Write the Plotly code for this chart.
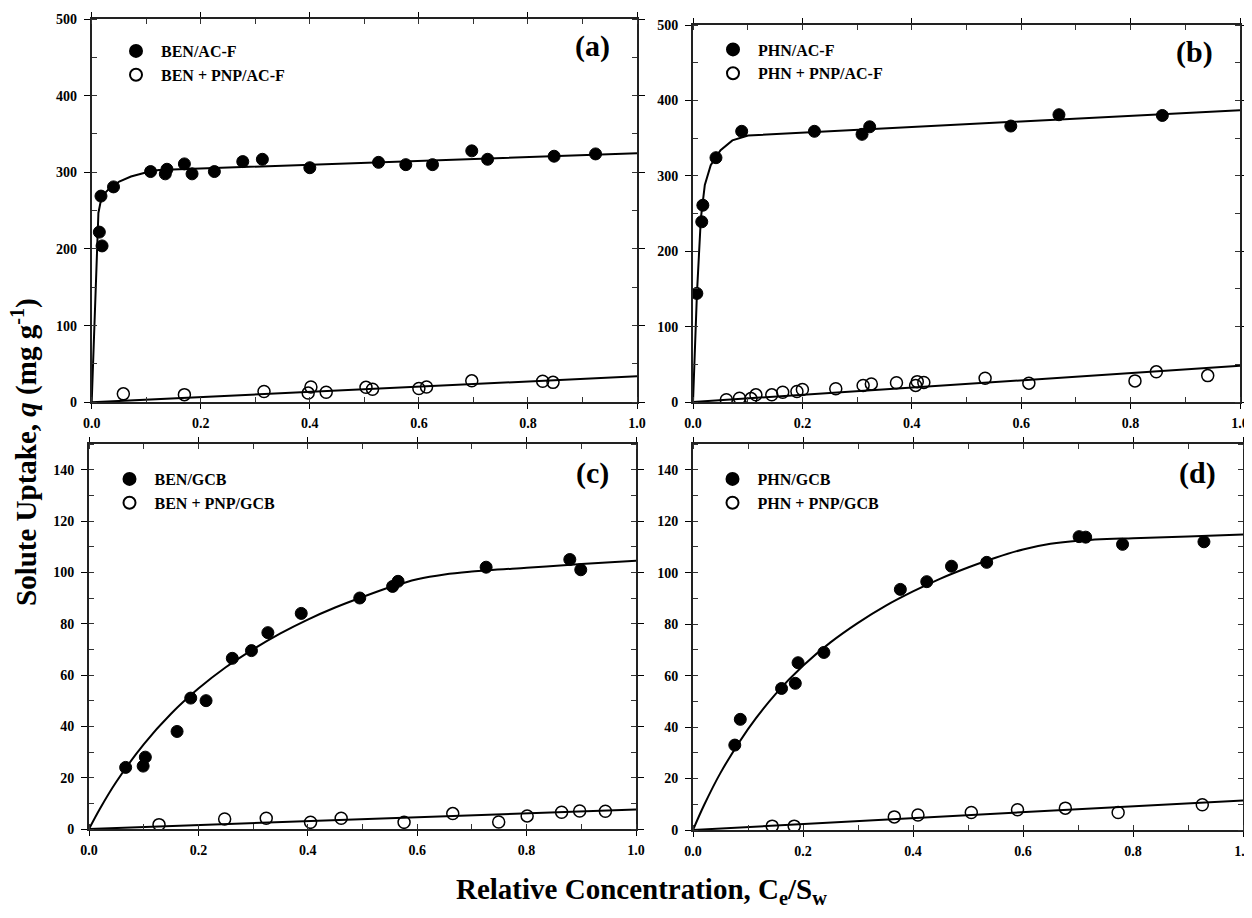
import plotly.graph_objects as go

# ---------------- data ----------------
# (a) BEN on AC-F
a_single_x = [0.014, 0.019, 0.017, 0.040, 0.108, 0.135, 0.138, 0.170, 0.184, 0.225, 0.277, 0.313,
              0.400, 0.526, 0.576, 0.625, 0.697, 0.726, 0.848, 0.924]
a_single_y = [222, 204, 269, 281, 301, 298, 304, 311, 298, 301, 314, 317,
              306, 313, 310, 310, 328, 317, 321, 324]
a_mix_x = [0.058, 0.170, 0.316, 0.397, 0.402, 0.430, 0.503, 0.515, 0.600, 0.614, 0.697, 0.827, 0.846]
a_mix_y = [11, 10, 14, 12, 20, 13, 19.5, 17, 18, 20, 28, 27.5, 26]
a_fit1_x = [0, 0.0123, 0.0159, 0.0217, 0.0325, 0.0505, 0.072, 0.101, 0.123, 1.0]
a_fit1_y = [0, 247, 260, 271, 279, 288, 294.5, 300, 303, 325]
a_fit2_x = [0, 1.0]
a_fit2_y = [0, 34]

# (b) PHN on AC-F
b_single_x = [0.007, 0.016, 0.018, 0.042, 0.089, 0.222, 0.309, 0.323, 0.581, 0.669, 0.858]
b_single_y = [144, 239, 261, 324, 359, 359, 355, 365, 366, 381, 380]
b_mix_x = [0.061, 0.085, 0.106, 0.115, 0.144, 0.164, 0.190, 0.200, 0.261, 0.311, 0.326, 0.372,
           0.407, 0.410, 0.422, 0.534, 0.614, 0.808, 0.847, 0.941]
b_mix_y = [3, 5, 4.5, 9.5, 9.5, 13, 14, 16.5, 17.5, 22, 24, 25.5, 22, 27, 26, 31.5, 25, 28, 40, 35]
b_fit1_x = [0, 0.0072, 0.0144, 0.0216, 0.0324, 0.0504, 0.072, 0.1007, 1.0]
b_fit1_y = [0, 144, 244, 288, 314, 334, 347, 353.5, 387]
b_fit2_x = [0, 1.0]
b_fit2_y = [0, 48]

# (c) BEN on GCB
c_single_x = [0.067, 0.099, 0.103, 0.161, 0.186, 0.214, 0.262, 0.297, 0.327, 0.388, 0.495, 0.555,
              0.565, 0.726, 0.879, 0.899]
c_single_y = [24, 24.5, 28, 38, 51, 50, 66.5, 69.5, 76.5, 84, 90, 94.5, 96.5, 102, 105, 101]
c_mix_x = [0.128, 0.248, 0.324, 0.405, 0.461, 0.576, 0.665, 0.749, 0.801, 0.864, 0.897, 0.944]
c_mix_y = [1.7, 3.9, 4.2, 2.6, 4.2, 2.6, 6.0, 2.7, 5.1, 6.5, 7.0, 6.9]
c_fit1_x = [0, 0.02, 0.05, 0.1, 0.15, 0.2, 0.25, 0.3, 0.35, 0.4, 0.45, 0.5, 0.55, 0.6, 0.65, 0.7,
            0.8, 0.9, 1.0]
c_fit1_y = [0, 7.9, 18.4, 33, 44.9, 54.7, 63, 70, 76.2, 81.6, 86.3, 90.4, 94.2, 97.3, 99.2, 100.3,
            101.8, 103.2, 104.5]
c_fit2_x = [0, 1.0]
c_fit2_y = [0, 7.6]

# (d) PHN on GCB
d_single_x = [0.076, 0.086, 0.161, 0.186, 0.191, 0.238, 0.377, 0.425, 0.470, 0.534, 0.702, 0.714,
              0.781, 0.929]
d_single_y = [33, 43, 55, 57, 65, 69, 93.5, 96.5, 102.5, 104, 114, 113.8, 111, 112]
d_mix_x = [0.144, 0.184, 0.366, 0.409, 0.506, 0.590, 0.677, 0.773, 0.926]
d_mix_y = [1.5, 1.5, 5.1, 5.8, 6.8, 7.9, 8.5, 6.8, 9.8]
d_fit1_x = [0, 0.02, 0.05, 0.1, 0.15, 0.2, 0.25, 0.3, 0.35, 0.4, 0.45, 0.5, 0.55, 0.6, 0.65, 0.7,
            0.8, 0.9, 1.0]
d_fit1_y = [0, 9.6, 22.2, 39.2, 52.8, 63.8, 72.9, 80.5, 87.1, 92.7, 97.7, 102, 105.8, 109.0, 111.2,
            112.4, 113.4, 114.1, 114.8]
d_fit2_x = [0, 1.0]
d_fit2_y = [0, 11.5]

names = {
    "a": ("BEN/AC-F", "BEN + PNP/AC-F"),
    "b": ("PHN/AC-F", "PHN + PNP/AC-F"),
    "c": ("BEN/GCB", "BEN + PNP/GCB"),
    "d": ("PHN/GCB", "PHN + PNP/GCB"),
}
panel_labels = {"a": "(a)", "b": "(b)", "c": "(c)", "d": "(d)"}
x_ticks = [0.0, 0.2, 0.4, 0.6, 0.8, 1.0]

# ---------------- figure ----------------
# The page body has an 8 px margin, so the figure is sized to fill the window exactly
OFF = 8
W, H = 1252 - 2 * OFF, 918 - 2 * OFF
FONT = "Liberation Serif"

def px_x(p):
    return (p - OFF) / W

def px_y(p):
    return 1 - (p - OFF) / H

panels = {
    # key: (axis index, x domain px, y domain px (bottom, top), y max, y dtick,
    #       legend px (left, top), label centre y px, fit1 spline?)
    "a": (1, (91.7, 637.0), (402.3, 19.0), 500, 100, (111, 34), 46, False),
    "b": (2, (693.0, 1240.0), (402.0, 25.0), 500, 100, (708, 32.5), 52, False),
    "c": (3, (89.0, 636.0), (829.0, 444.0), 150, 20, (104.5, 462), 473, True),
    "d": (4, (693.0, 1243.0), (830.0, 444.0), 150, 20, (707.5, 462), 473, True),
}
data = {
    "a": (a_single_x, a_single_y, a_mix_x, a_mix_y, a_fit1_x, a_fit1_y, a_fit2_x, a_fit2_y),
    "b": (b_single_x, b_single_y, b_mix_x, b_mix_y, b_fit1_x, b_fit1_y, b_fit2_x, b_fit2_y),
    "c": (c_single_x, c_single_y, c_mix_x, c_mix_y, c_fit1_x, c_fit1_y, c_fit2_x, c_fit2_y),
    "d": (d_single_x, d_single_y, d_mix_x, d_mix_y, d_fit1_x, d_fit1_y, d_fit2_x, d_fit2_y),
}

fig = go.Figure()
layout = dict(
    width=W, height=H,
    margin=dict(l=0, r=0, t=0, b=0, autoexpand=False),
    paper_bgcolor="white", plot_bgcolor="white",
    font=dict(family=FONT, color="black"),
    showlegend=True,
)
annotations = []

for key, (i, xd, yd, ymax, ydt, lg, lab_y, smooth) in panels.items():
    sx, sy, mx, my, f1x, f1y, f2x, f2y = data[key]
    xa = "x" if i == 1 else f"x{i}"
    ya = "y" if i == 1 else f"y{i}"
    leg = "legend" if i == 1 else f"legend{i}"
    fig.add_trace(go.Scatter(x=f1x, y=f1y, mode="lines", xaxis=xa, yaxis=ya, showlegend=False,
                             line=dict(color="black", width=2,
                                       shape="spline" if smooth else "linear"),
                             hoverinfo="skip", legend=leg))
    fig.add_trace(go.Scatter(x=f2x, y=f2y, mode="lines", xaxis=xa, yaxis=ya, showlegend=False,
                             line=dict(color="black", width=2), hoverinfo="skip", legend=leg))
    fig.add_trace(go.Scatter(x=sx, y=sy, mode="markers", xaxis=xa, yaxis=ya, name=names[key][0],
                             legend=leg,
                             marker=dict(symbol="circle", size=12, color="black",
                                         line=dict(color="black", width=1))))
    fig.add_trace(go.Scatter(x=mx, y=my, mode="markers", xaxis=xa, yaxis=ya, name=names[key][1],
                             legend=leg,
                             marker=dict(symbol="circle-open", size=12, color="black",
                                         line=dict(color="black", width=1.5))))

    axname = "" if i == 1 else str(i)
    layout["xaxis" + axname] = dict(
        domain=[px_x(xd[0]), px_x(xd[1])], anchor=ya, range=[0, 1.0],
        tickvals=x_ticks, ticktext=[f"{v:.1f}" for v in x_ticks],
        ticks="outside", ticklen=5, tickwidth=1.2, tickcolor="black", ticklabelstandoff=2,
        ticklabeloverflow="allow",
        minor=dict(dtick=0.1, ticks="inside", ticklen=5, tickwidth=1, tickcolor="#333"),
        showline=True, linecolor="#222", linewidth=1.8, mirror="allticks",
        showgrid=False, zeroline=False, automargin=False,
        tickfont=dict(family=FONT, size=14, color="black", weight="bold"),
        fixedrange=True,
    )
    layout["yaxis" + axname] = dict(
        domain=[px_y(yd[0]), px_y(yd[1])], anchor=xa, range=[0, ymax],
        dtick=ydt, tick0=0,
        ticks="outside", ticklen=6, tickwidth=1.2, tickcolor="black", ticklabelstandoff=4,
        ticklabeloverflow="allow",
        minor=dict(dtick=ydt / 2, ticks="inside", ticklen=5, tickwidth=1, tickcolor="#333"),
        showline=True, linecolor="#222", linewidth=1.8, mirror="allticks",
        showgrid=False, zeroline=False, automargin=False,
        tickfont=dict(family=FONT, size=14, color="black", weight="bold"),
        fixedrange=True,
    )
    layout[leg] = dict(
        x=px_x(lg[0]), y=px_y(lg[1]), xanchor="left", yanchor="top",
        bgcolor="rgba(0,0,0,0)", borderwidth=0, itemwidth=40,
        font=dict(family=FONT, size=16, color="black", weight="bold"),
        tracegroupgap=0, itemsizing="constant",
    )
    ytop, ybot = yd[1], yd[0]
    annotations.append(dict(
        xref=f"{xa} domain", yref=f"{ya} domain", x=0.955,
        y=1 - (lab_y - ytop) / (ybot - ytop),
        xanchor="right", yanchor="middle", showarrow=False,
        text=f"<b>{panel_labels[key]}</b>",
        font=dict(family=FONT, size=30, color="black"),
    ))

annotations.append(dict(
    xref="paper", yref="paper", x=px_x(641), y=px_y(891), xanchor="center", yanchor="middle",
    showarrow=False, text="<b>Relative Concentration, C<sub>e</sub>/S<sub>w</sub></b>",
    font=dict(family=FONT, size=29, color="black"),
))
annotations.append(dict(
    xref="paper", yref="paper", x=px_x(25), y=px_y(452), xanchor="center", yanchor="middle",
    showarrow=False, textangle=-90,
    text="<b>Solute Uptake, <i>q</i> (mg g<sup>-1</sup>)</b>",
    font=dict(family=FONT, size=29, color="black"),
))
layout["annotations"] = annotations

fig.update_layout(**layout)
fig.write_html("out.html")
